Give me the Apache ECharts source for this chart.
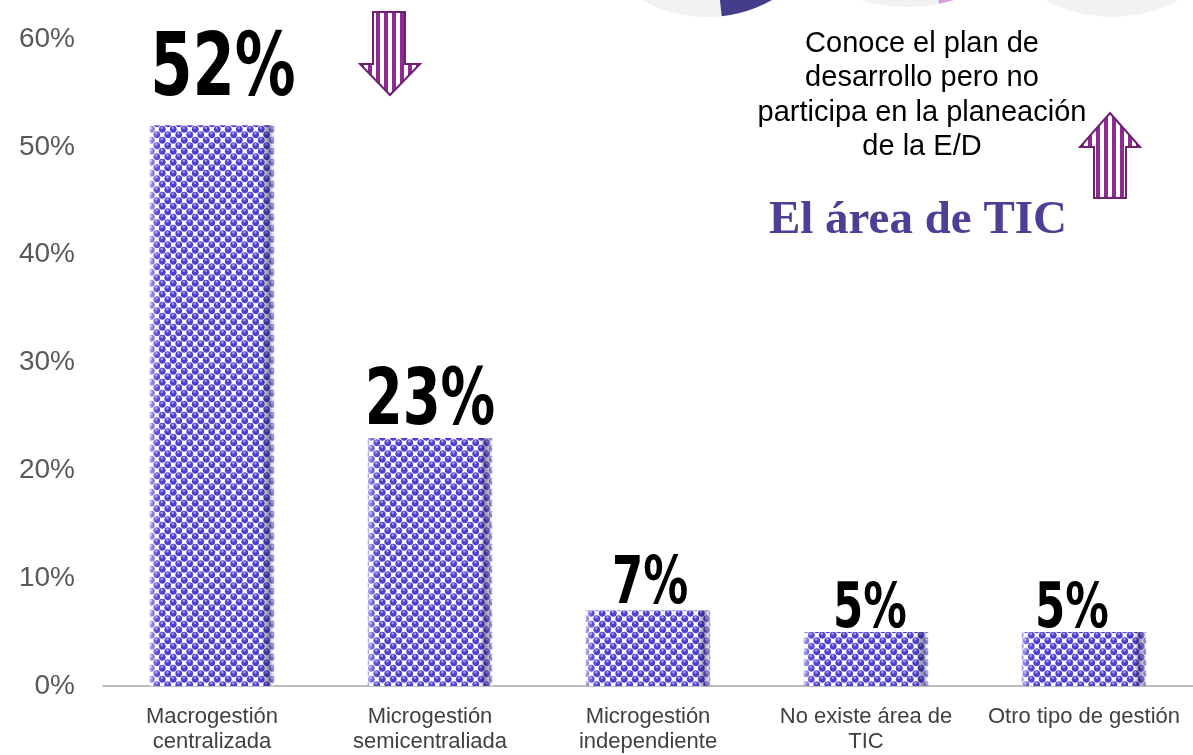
<!DOCTYPE html>
<html>
<head>
<meta charset="utf-8">
<script src="https://cdn.jsdelivr.net/npm/echarts@6/dist/echarts.min.js"></script>
<style>
html,body{margin:0;padding:0;background:#fff;}
#chart{width:1193px;height:755px;}
</style>
</head>
<body>
<div id="chart"></div>
<script>
// ---- data ----
const categories = ['Macrogestión\ncentralizada', 'Microgestión\nsemicentraliada', 'Microgestión\nindependiente', 'No existe área de\nTIC', 'Otro tipo de gestión'];
const values = [52, 23, 7, 5, 5];
const yTicks = [0, 10, 20, 30, 40, 50, 60];
const noteLines = ['Conoce el plan de', 'desarrollo pero no', 'participa en la planeación', 'de la E/D'];
const subtitle = 'El área de TIC';

// ---- patterns ----
function makeDotPattern() {
  const c = document.createElement('canvas');
  c.width = 11; c.height = 11;
  const g = c.getContext('2d');
  g.fillStyle = '#ffffff';
  g.fillRect(0, 0, 11, 11);
  const pts = [[2.75, 2.75], [8.25, 8.25], [8.25, -2.75], [-2.75, 8.25], [13.75, 2.75], [2.75, 13.75], [13.75, 13.75], [-2.75, -2.75]];
  pts.forEach(([x, y]) => {
    g.beginPath(); g.arc(x, y, 3.4, 0, Math.PI * 2);
    g.fillStyle = '#5040d0'; g.fill();
    g.beginPath(); g.arc(x - 0.4, y - 1.4, 1.3, 0, Math.PI * 2);
    g.fillStyle = '#a094f4'; g.fill();
  });
  return c;
}
function makeStripePattern() {
  const c = document.createElement('canvas');
  c.width = 8; c.height = 8;
  const g = c.getContext('2d');
  g.fillStyle = '#ffffff'; g.fillRect(0, 0, 8, 8);
  g.fillStyle = '#8e2a90'; g.fillRect(0, 0, 4, 8);
  return c;
}
const dotPattern = makeDotPattern();
const stripePattern = makeStripePattern();

// label styling (per bar)
const labelFont = '"DejaVu Sans", sans-serif';
const labelSizes = [88, 79, 65, 63, 63];
const labelGap = [53, 34, 24, 21, 21];      // distance from bar top to label centre
const labelOffX = [11, 0, 2, 4, -12];
const labelScaleX = 0.69;

const chart = echarts.init(document.getElementById('chart'));
const option = {
  animation: false,
  grid: { left: 103, right: -2, top: 39, bottom: 65 },
  xAxis: {
    type: 'category',
    data: categories,
    axisLine: { lineStyle: { color: '#a6a6a6', width: 1.5 } },
    axisTick: { show: false },
    axisLabel: { color: '#404040', fontSize: 22, fontFamily: '"Liberation Sans", Arial, sans-serif', lineHeight: 25.5, margin: 18, interval: 0 }
  },
  yAxis: {
    type: 'value',
    min: yTicks[0], max: yTicks[yTicks.length - 1], interval: 10,
    splitLine: { show: false },
    axisLine: { show: false },
    axisTick: { show: false },
    axisLabel: { color: '#595959', fontSize: 28, fontFamily: '"Liberation Sans", Arial, sans-serif', margin: 28, formatter: '{value}%' }
  },
  series: [
    {
      type: 'bar',
      barWidth: '57%',
      z: 2,
      itemStyle: { color: { image: dotPattern, repeat: 'repeat' } },
      data: values.slice()
    },
    {
      type: 'bar',
      barWidth: '57%',
      barGap: '-100%',
      z: 3,
      silent: true,
      itemStyle: {
        color: {
          type: 'linear', x: 0, y: 0, x2: 1, y2: 0,
          colorStops: [
            { offset: 0, color: 'rgba(255,255,255,0.55)' },
            { offset: 0.05, color: 'rgba(255,255,255,0.1)' },
            { offset: 0.1, color: 'rgba(255,255,255,0)' },
            { offset: 0.9, color: 'rgba(0,0,0,0)' },
            { offset: 0.95, color: 'rgba(30,20,70,0.45)' },
            { offset: 1, color: 'rgba(255,255,255,0.45)' }
          ]
        }
      },
      data: values.slice()
    },
    {
      type: 'custom',
      z: 5,
      silent: true,
      data: values.map((v, i) => [i, v]),
      renderItem: function (params, api) {
        const i = params.dataIndex;
        const p = api.coord([api.value(0), api.value(1)]);
        return {
          type: 'text',
          x: p[0] + labelOffX[i],
          y: p[1] - labelGap[i],
          scaleX: labelScaleX,
          style: {
            text: api.value(1) + '%',
            x: 0, y: 0,
            align: 'center', verticalAlign: 'middle',
            font: 'bold ' + labelSizes[i] + 'px ' + labelFont,
            fill: '#000'
          }
        };
      }
    }
  ],
  graphic: [
    // decorative partial pies at the top
    { type: 'circle', shape: { cx: 707, cy: -116, r: 133 }, style: { fill: '#f2f2f2' }, z: 0 },
    { type: 'sector', shape: { cx: 707, cy: -116, r: 133, r0: 0, startAngle: 0.4, endAngle: 1.46 }, style: { fill: '#463c8c' }, z: 0 },
    { type: 'circle', shape: { cx: 907, cy: -154, r: 161 }, style: { fill: '#f2f2f2' }, z: 0 },
    { type: 'sector', shape: { cx: 907, cy: -154, r: 161, r0: 0, startAngle: 0.9, endAngle: 1.37 }, style: { fill: '#d8a0d8' }, z: 0 },
    { type: 'circle', shape: { cx: 1112, cy: -123, r: 140 }, style: { fill: '#f2f2f2' }, z: 0 },
    // arrows
    {
      type: 'polygon', z: 10,
      shape: { points: [[373, 12], [405, 12], [405, 64], [420, 64], [390, 95], [360, 64], [373, 64]] },
      style: { fill: { image: stripePattern, repeat: 'repeat' }, stroke: '#6d1f70', lineWidth: 2 }
    },
    {
      type: 'polygon', z: 10,
      shape: { points: [[1110, 113], [1140, 147], [1126, 147], [1126, 198], [1094, 198], [1094, 147], [1080, 147]] },
      style: { fill: { image: stripePattern, repeat: 'repeat' }, stroke: '#6d1f70', lineWidth: 2 }
    },
    // note text
    {
      type: 'text', z: 10,
      style: {
        text: noteLines.join('\n'), x: 922, y: 27, align: 'center', verticalAlign: 'top',
        font: '29px "Liberation Sans", Arial, sans-serif', lineHeight: 34.3, fill: '#000'
      }
    },
    {
      type: 'text', z: 10,
      style: {
        text: subtitle, x: 918, y: 221, align: 'center', verticalAlign: 'middle',
        font: 'bold 47px "Liberation Serif", "DejaVu Serif", serif', fill: '#4b4096'
      }
    }
  ]
};
chart.setOption(option);
</script>
</body>
</html>
